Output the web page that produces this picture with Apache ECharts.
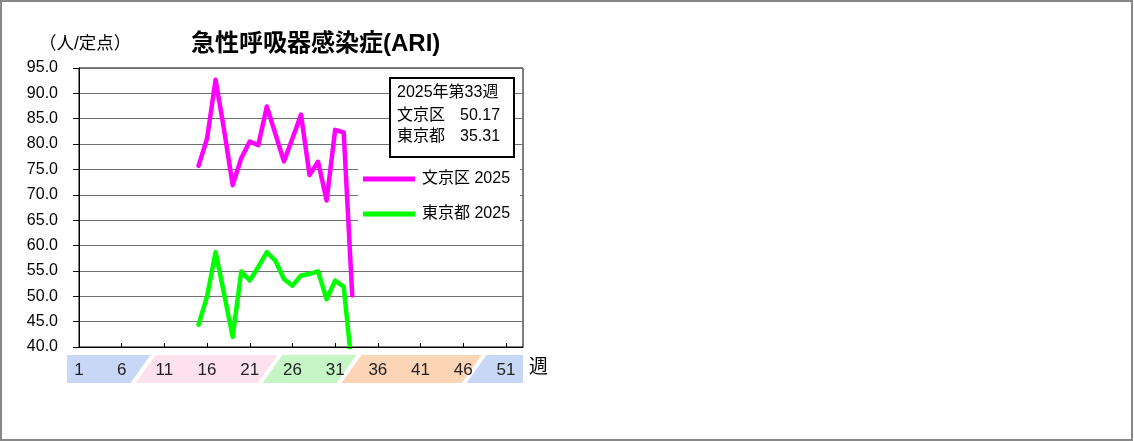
<!DOCTYPE html>
<html><head><meta charset="utf-8">
<script src="https://cdn.jsdelivr.net/npm/echarts@6/dist/echarts.min.js"></script>
<style>html,body{margin:0;padding:0;background:#fff}#c{width:1134px;height:441px}</style>
</head><body><div id="c"></div>
<script>
// ---- data ----
const weeks = Array.from({length: 53}, (_, i) => String(i + 1));
const firstWeek = 15;
const bunkyoVals = [75.7, 81.1, 92.7, 82.7, 71.9, 77.2, 80.5, 79.8, 87.4, 82.0, 76.6, 81.1, 85.8, 73.9, 76.5, 68.9, 82.8, 82.3, 50.17];
const tokyoVals  = [44.4, 50.0, 58.7, 50.4, 42.0, 54.9, 53.1, 55.8, 58.7, 57.0, 53.4, 52.1, 54.1, 54.4, 54.9, 49.4, 53.1, 51.9, 35.31];
const seriesNames = ['文京区 2025', '東京都 2025'];
const areaNames = ['文京区', '東京都'];
const currentWeekLabel = '2025年第33週';
const yTicks = {min: 40, max: 95, step: 5};
// season bands along the week axis (week positions of boundaries)
const bandEdges = [-0.4, 8.5, 23.37, 32.62, 47.26, 53];
const bandColors = ['#c9d7f6', '#fde1ec', '#c6f6c6', '#fbd5b6', '#c9d7f6'];

function fill(vals) {
  const out = weeks.map(() => null);
  vals.forEach((v, i) => { out[firstWeek - 1 + i] = v; });
  return out;
}
const bunkyo = fill(bunkyoVals);
const tokyo = fill(tokyoVals);

const FONT = '"Liberation Sans", "Noto Sans CJK JP", sans-serif';
const chart = echarts.init(document.getElementById('c'));

function renderBand(params, api) {
  const i = params.dataIndex;
  const p0 = api.coord([0, yTicks.min]);
  const p1 = api.coord([1, yTicks.min]);
  const step = p1[0] - p0[0];
  const px = w => p0[0] + (w - 1) * step;
  const yT = p0[1] + 8, yB = p0[1] + 36;
  const sl = 10, g = 2.5;
  const L = px(bandEdges[i]), R = px(bandEdges[i + 1]);
  const first = i === 0, last = i === bandEdges.length - 2;
  const pts = [
    [first ? L : L + sl + g, yT],
    [last ? R : R + sl - g, yT],
    [last ? R : R - sl - g, yB],
    [first ? L : L - sl + g, yB]
  ];
  return {type: 'polygon', shape: {points: pts}, style: {fill: bandColors[i]}};
}

chart.setOption({
  animation: false,
  backgroundColor: '#fff',
  textStyle: {fontFamily: FONT},
  title: {
    text: '急性呼吸器感染症(ARI)',
    left: 186, top: 27,
    textStyle: {fontSize: 24, fontWeight: 'bold', color: '#000', fontFamily: FONT}
  },
  grid: {left: 79, right: 611, top: 68, bottom: 94, show: true, borderColor: '#000', borderWidth: 1, outerBoundsMode: 'none'},
  legend: {
    orient: 'vertical', left: 358, top: 161,
    data: seriesNames,
    icon: 'rect', itemWidth: 52, itemHeight: 5, itemGap: 15,
    padding: [8, 10, 8, 5],
    backgroundColor: '#fff',
    textStyle: {fontSize: 16, color: '#000', lineHeight: 20, fontFamily: FONT, padding: [0, 0, 0, 2]}
  },
  xAxis: {
    type: 'category', data: weeks, boundaryGap: false, z: 10,
    axisLine: {lineStyle: {color: '#000', width: 1}},
    axisTick: {inside: true, length: 4, interval: 4, lineStyle: {color: '#000'}},
    axisLabel: {interval: 4, margin: 15, fontSize: 17, color: '#222', fontFamily: FONT},
    splitLine: {show: false}
  },
  yAxis: {
    type: 'value', min: yTicks.min, max: yTicks.max, interval: yTicks.step,
    axisLine: {show: true, lineStyle: {color: '#000', width: 1}},
    axisTick: {show: true, length: 6, lineStyle: {color: '#000'}},
    axisLabel: {margin: 21, fontSize: 16, color: '#000', fontFamily: FONT, formatter: v => v.toFixed(1)},
    splitLine: {lineStyle: {color: '#707070', width: 1}}
  },
  series: [
    {
      type: 'custom', name: 'bands', silent: true, clip: false, z: 1,
      renderItem: renderBand,
      data: bandColors.map((_, i) => [i, yTicks.min])
    },
    {
      name: seriesNames[0], type: 'line', data: bunkyo, showSymbol: false, connectNulls: false,
      color: '#ff00ff', lineStyle: {width: 4.5, color: '#ff00ff', join: 'round', cap: 'round'}, z: 3
    },
    {
      name: seriesNames[1], type: 'line', data: tokyo, showSymbol: false, connectNulls: false,
      color: '#00ff00', lineStyle: {width: 4.5, color: '#00ff00', join: 'round', cap: 'round'}, z: 3
    }
  ],
  graphic: [
    {type: 'rect', z: 100, silent: true, shape: {x: 1, y: 1, width: 1131, height: 439},
     style: {fill: 'none', stroke: '#888', lineWidth: 2}},
    {type: 'text', z: 20, left: 39, top: 35, style: {text: '（人/定点）', fill: '#000', font: '17.5px ' + FONT}},
    {type: 'text', z: 20, left: 529, top: 358, style: {text: '週', fill: '#000', font: '19px ' + FONT}},
    {type: 'rect', z: 20, shape: {x: 390, y: 78, width: 124, height: 79},
     style: {fill: '#fff', stroke: '#000', lineWidth: 2}},
    {type: 'text', z: 21, left: 397, top: 85, style: {text: currentWeekLabel, fill: '#000', font: '16px ' + FONT}},
    {type: 'text', z: 21, left: 397, top: 108, style: {text: areaNames[0], fill: '#000', font: '16px ' + FONT}},
    {type: 'text', z: 21, left: 460, top: 108, style: {text: bunkyoVals[bunkyoVals.length - 1].toFixed(2), fill: '#000', font: '16px ' + FONT}},
    {type: 'text', z: 21, left: 397, top: 129, style: {text: areaNames[1], fill: '#000', font: '16px ' + FONT}},
    {type: 'text', z: 21, left: 460, top: 129, style: {text: tokyoVals[tokyoVals.length - 1].toFixed(2), fill: '#000', font: '16px ' + FONT}}
  ]
});
</script>
</body></html>
